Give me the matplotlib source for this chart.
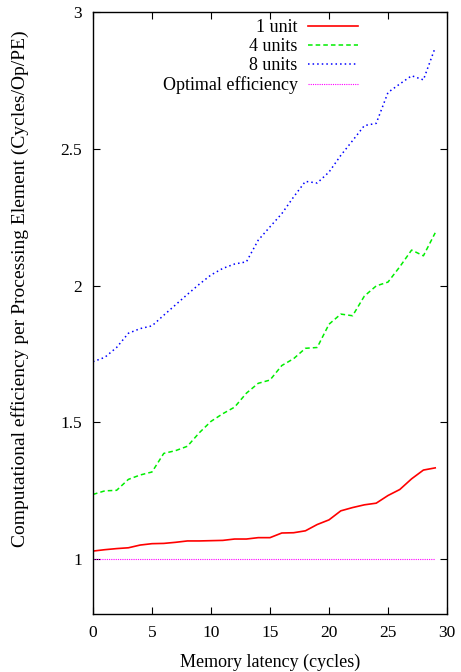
import matplotlib
matplotlib.use("Agg")
import matplotlib.pyplot as plt

plt.rcParams['font.family'] = ['Liberation Serif', 'DejaVu Serif']

latency = list(range(30))
unit1 = [1.030, 1.035, 1.039, 1.042, 1.052, 1.057, 1.058, 1.062, 1.067, 1.067,
         1.068, 1.069, 1.074, 1.074, 1.079, 1.079, 1.096, 1.097, 1.104, 1.127,
         1.144, 1.177, 1.189, 1.199, 1.205, 1.233, 1.255, 1.294, 1.326, 1.334]
units4 = [1.237, 1.250, 1.252, 1.292, 1.308, 1.319, 1.387, 1.397, 1.413, 1.462,
          1.504, 1.532, 1.556, 1.607, 1.643, 1.655, 1.708, 1.733, 1.771, 1.774,
          1.859, 1.896, 1.890, 1.962, 1.999, 2.013, 2.069, 2.130, 2.109, 2.193]
units8 = [1.722, 1.738, 1.774, 1.826, 1.843, 1.853, 1.892, 1.930, 1.968, 2.005,
          2.039, 2.063, 2.079, 2.087, 2.166, 2.215, 2.263, 2.324, 2.381, 2.375,
          2.415, 2.476, 2.530, 2.585, 2.593, 2.706, 2.737, 2.767, 2.752, 2.870]
optimal = [1.0] * 30

fig = plt.figure(figsize=(4.61, 6.72), dpi=100)
ax = fig.add_axes([93/461, 1-614/672, (447-93)/461, (614-12)/672])

ax.plot(latency, unit1, color='#ff0000', lw=1.2, ls='-', label='1 unit')
ax.plot(latency, units4, color='#00ee00', lw=1.1, ls=(0, (3, 2)), label='4 units')
ax.plot(latency, units8, color='#0000ff', lw=1.1, ls=(0, (1, 2)), label='8 units')
ax.plot(latency, optimal, color='#ff00ff', lw=0.8, ls=(0, (1, 1)), label='Optimal efficiency')

ax.set_xlim(0, 30)
ax.set_ylim(0.8, 3)
ax.set_xticks([0, 5, 10, 15, 20, 25, 30])
ax.set_yticks([1, 1.5, 2, 2.5, 3])
ax.set_yticklabels(['1', '1.5', '2', '2.5', '3'])
ax.tick_params(direction='in', top=True, right=True, length=5, width=0.8, labelsize=12.5, pad=8)
for s in ax.spines.values():
    s.set_linewidth(1.0)

ax.set_xlabel('Memory latency (cycles)', fontsize=13, labelpad=9)
ax.set_ylabel('Computational efficiency per Processing Element (Cycles/Op/PE)', fontsize=14)
ax.yaxis.set_label_coords((29-93)/354, (614-289)/602)

leg = ax.legend(loc='upper right', bbox_to_anchor=(358/461, 1-19/672), bbox_transform=fig.transFigure,
                frameon=False, markerfirst=False, fontsize=13, handlelength=2.75,
                labelspacing=0.12, handletextpad=0.6, borderpad=0, borderaxespad=0)
for t in leg.get_texts():
    t.set_ha('right')
leg._legend_box.align = 'right'

fig.savefig('out.png', dpi=100)
